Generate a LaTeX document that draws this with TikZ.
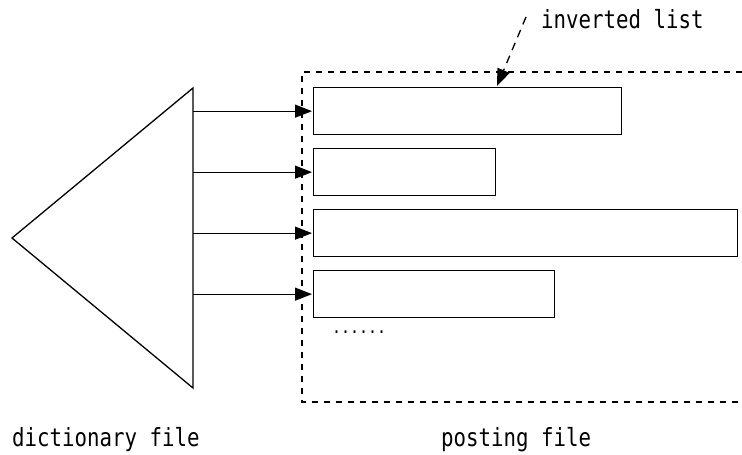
\documentclass[tikz,border=0pt]{standalone}
\usepackage{fontspec}
\setmonofont[FakeStretch=0.83]{DejaVu Sans Mono}
\usetikzlibrary{arrows.meta}
\usetikzlibrary{calc}

\tikzset{
  solid line/.style={line width=1.3pt},
  tip/.style={-{Triangle[length=17pt,width=13pt]}},
  postbox/.style={draw,line width=1.3pt,minimum height=47pt,anchor=north west,inner sep=0pt},
  label/.style={font=\ttfamily\fontsize{25pt}{25pt}\selectfont,inner sep=0pt}
}

\begin{document}
\begin{tikzpicture}[x=1pt,y=-1pt]
        \useasboundingbox (0,0) rectangle (742,455);

        % dictionary file
        \coordinate (apex) at (12,238);
        \coordinate (top) at (193,88);
        \coordinate (bot) at (193,388);
        \draw[solid line,line join=miter] (top) -- (apex) -- (bot) -- cycle;

        % posting file
        \draw[line width=1.3pt,dash pattern=on 6pt off 6pt] (742,72) -- (302,72) -- (302,402) -- (742,402);
        \node[postbox,minimum width=308pt] (list1) at (313,87) {};
        \node[postbox,minimum width=182pt] (list2) at (313,148) {};
        \node[postbox,minimum width=424pt] (list3) at (313,209) {};
        \node[postbox,minimum width=241pt] (list4) at (313,270) {};
        \node[label,anchor=base west,scale=0.72] (more) at (332,333) {......};

        % pointers
        \foreach \i in {1,...,4}
            \draw[solid line,tip] (top |- list\i.west) -- ($(list\i.west)+(-1,0)$);

        % labels
        \node[label,anchor=base west] (inv) at (541,28) {inverted list};
        \coordinate (invtip) at (497,86);
        \draw[line width=1.3pt,dash pattern=on 8pt off 6pt,tip] (526,17) -- (invtip);
        \node[label,anchor=base west] (dict) at (12,446) {dictionary file};
        \node[label,anchor=base west] (post) at (441,446) {posting file};
    \end{tikzpicture}
\end{document}
